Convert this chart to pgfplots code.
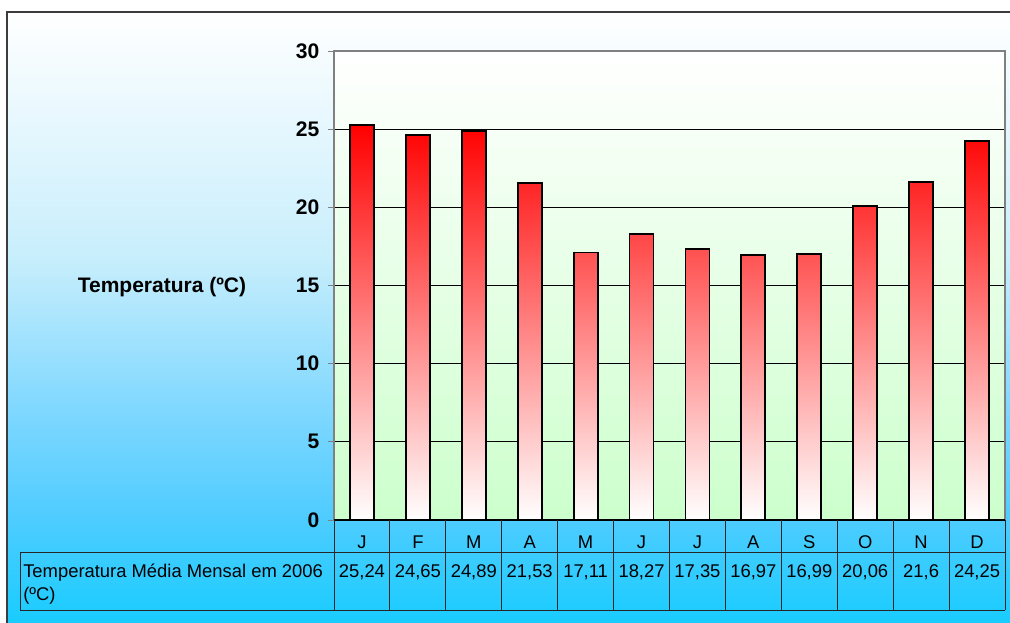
\documentclass[border=0pt]{standalone}
\usepackage{fontspec}
\setmainfont{Liberation Sans}
\usepackage{pgfplots}
\pgfplotsset{compat=1.18}
\usepackage{pgfplotstable}

\definecolor{bgbot}{RGB}{16,204,255}
\definecolor{bgc3}{RGB}{80,204,255}
\definecolor{bgc2}{RGB}{128,216,255}
\definecolor{bgc1}{RGB}{200,238,252}
\definecolor{plotgreen}{RGB}{204,255,204}
\definecolor{framegray}{RGB}{60,60,60}
\definecolor{bordergray}{RGB}{128,128,128}

\pgfdeclareverticalshading{bgshade}{100bp}{color(0bp)=(bgbot); color(25bp)=(bgbot); color(35bp)=(bgc3); color(43.5bp)=(bgc2); color(55.5bp)=(bgc1); color(75bp)=(white); color(100bp)=(white)}

\pgfplotstableread{
x y
0 25.24
1 24.65
2 24.89
3 21.53
4 17.11
5 18.27
6 17.35
7 16.97
8 16.99
9 20.06
10 21.6
11 24.25
}\temps

\newcommand{\tabfont}{\fontsize{13.8}{16}\selectfont}

\begin{document}
\begin{tikzpicture}[x=0.75pt, y=-0.75pt]
\useasboundingbox (0,0) rectangle (1010,623);
\clip (0,0) rectangle (1010,623);
\fill[white] (0,0) rectangle (1010,623);
% chart area
\path[shading=bgshade] (7,12) rectangle (1020,640);
\draw[framegray, line width=1.2pt] (7,12) rectangle (1020,640);

\begin{axis}[
  at={(250.5pt,-390pt)}, anchor=south west,
  scale only axis, width=503.25pt, height=351.75pt,
  xmin=-0.5, xmax=11.5, ymin=0, ymax=30,
  xtick={0,...,11},
  xticklabels={J,F,M,A,M,J,J,A,S,O,N,D},
  ytick={0,5,...,30},
  ymajorgrids, grid style={black, line width=0.75pt},
  axis line style={draw=bordergray, line width=1.5pt},
  axis background/.style={top color=white, bottom color=plotgreen},
  tick align=outside, major tick length=4.5pt,
  ytick pos=left, xtick style={draw=none},
  ytick style={bordergray, line width=0.75pt},
  /pgf/number format/use comma,
  /pgf/number format/assume math mode=true,
  yticklabel style={font=\fontsize{15.8}{18}\selectfont\bfseries, xshift=-3pt},
  xticklabel style={font=\tabfont, anchor=base, yshift=-17pt},
  ylabel={Temperatura (ºC)},
  every axis y label/.style={at={(axis description cs:-0.2563,0.497)}, anchor=center,
    font=\fontsize{15.75}{18}\selectfont\bfseries},
  clip=false,
]
\addplot[ybar, bar width=18pt, draw=black, line width=1.4pt,
  top color=red, bottom color=white] table[x=x, y=y] {\temps};
% value row of the data table
\addplot[draw=none, mark=none, nodes near coords, point meta=explicit,
  every node near coord/.append style={font=\tabfont, anchor=base, yshift=-43pt, inner sep=0pt}]
  table[x=x, y expr=0, meta=y] {\temps};
\draw[black, line width=1.5pt] (rel axis cs:0,0) -- (rel axis cs:1,0);
\end{axis}

% data table grid
\draw[black!85, line width=0.75pt] (20,552) -- (1005,552);
\draw[black!85, line width=0.75pt] (20,610) -- (1005,610);
\draw[black!85, line width=0.75pt] (20,552) -- (20,610);
\foreach \k in {0,...,12}{
  \draw[black!85, line width=0.75pt] ({334+55.9167*\k},520) -- ({334+55.9167*\k},610);
}
\node[anchor=base west, inner sep=0pt, font=\tabfont] at (23,577) {Temperatura Média Mensal em 2006};
\node[anchor=base west, inner sep=0pt, font=\tabfont] at (23,600) {(ºC)};
\end{tikzpicture}
\end{document}
